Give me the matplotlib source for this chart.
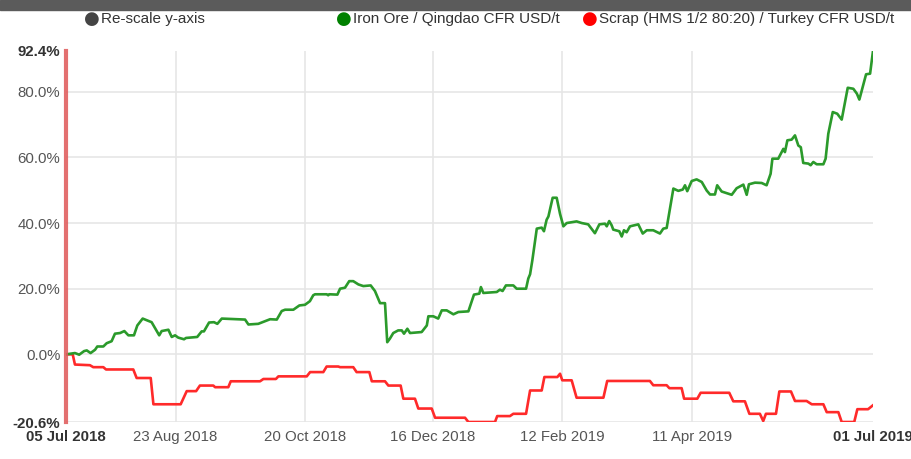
import numpy as np
import pandas as pd
import matplotlib
matplotlib.use("Agg")
import matplotlib.pyplot as plt
import matplotlib.dates as mdates
from matplotlib.ticker import FixedLocator

# data: days since 05 Jul 2018 and % change
start = pd.Timestamp("2018-07-05")

iron_days = [0, 4, 5.9, 8.1, 9.3, 11, 13, 14, 16.7, 18.2, 20.4, 21.9, 24.2, 26.1, 27.9, 30.4,
             31.9, 34.3, 36.1, 38.3, 41.7, 42.8, 45.8, 47.3, 48.8, 50.2, 52.8, 53.7, 58.7, 60.7,
             61.7, 64, 66.2, 67.7, 69.7, 80.1, 81.6, 86, 89, 91.3, 94.3, 96.5, 98, 101.7, 104.4,
             106.9, 109.1, 110.6, 111.4, 116.6, 117.3, 117.8, 121.4, 122.6, 124.8, 126.7, 128.5,
             130.8, 133, 136.3, 138.2, 140.5, 142.7, 143.7, 144.9, 146.4, 148.6, 150.2, 151.2,
             152.7, 153.9, 159.1, 161.4, 162.1, 164.3, 166.5, 168.1, 170.3, 173.3, 175.5, 180,
             182.5, 184.9, 185.6, 186.7, 192.7, 194.1, 195.3, 196.8, 200.1, 201.6, 205.8, 206.8,
             207.6, 208.6, 210.6, 212.8, 213.8, 215, 215.8, 217.7, 219.5, 221, 222.5, 224, 228.4,
             230.7, 233.6, 236.6, 238.6, 241.1, 241.9, 243, 244.1, 244.8, 247.5, 248.6, 249.6,
             250.8, 252.3, 256, 258, 259.8, 262.7, 265.7, 267.2, 268.7, 271.7, 273.9, 275.9,
             276.9, 277.9, 279.9, 282.1, 284.4, 286.6, 288.1, 290.3, 291.3, 293.3, 295.6, 297.8,
             300, 303, 304.5, 305.5, 308.2, 311.2, 313.4, 315.2, 316, 318.6, 320.9, 321.6, 322.7,
             324.6, 326.1, 327.6, 328.7, 329.8, 332.1, 333.1, 334.3, 335.8, 338.8, 339.8, 341,
             343, 345, 347, 348.5, 349.7, 352.2, 353.8, 354.9, 356, 357.9, 359.7, 361]
iron_pct = [0, 0.4, -0.1, 1.0, 1.2, 0.4, 1.4, 2.4, 2.4, 3.4, 4.0, 6.3, 6.5, 7.1, 5.8, 5.8,
            8.8, 10.9, 10.4, 9.8, 5.8, 7.1, 7.5, 5.3, 5.8, 5.1, 4.6, 5.0, 5.3, 7.0,
            7.0, 9.7, 9.8, 9.3, 10.9, 10.6, 9.1, 9.3, 10.1, 10.7, 10.6, 13.2, 13.6, 13.6, 14.9,
            15.1, 16.2, 18.0, 18.3, 18.3, 18.0, 18.3, 18.2, 20.0, 20.3, 22.3, 22.3,
            21.3, 20.8, 21.0, 19.3, 15.6, 15.6, 3.7, 4.8, 6.5, 7.3, 7.3, 6.3,
            7.8, 6.5, 6.8, 8.8, 11.6, 11.6, 10.9, 13.4, 13.4, 12.2, 12.9, 13.1,
            18.2, 18.5, 20.5, 18.7, 19.0, 19.7, 19.3, 21.0, 21.0, 20.0, 20.0, 23.1,
            24.4, 28.6, 38.3, 38.6, 37.5, 41.0, 42.0, 47.7, 47.7, 42.8, 39.0, 40.0, 40.5,
            40.0, 39.6, 36.9, 39.6, 39.8, 39.0, 40.6, 39.3, 38.0, 37.5, 35.9, 37.8,
            37.2, 39.0, 39.6, 36.8, 37.8, 37.8, 36.8, 38.3, 38.5, 50.5, 49.8, 50.2,
            51.5, 49.7, 52.8, 53.3, 52.5, 49.9, 48.7, 48.7, 51.5, 49.6, 49.1, 48.6,
            50.6, 51.7, 48.6, 51.8, 52.3, 52.2, 51.5, 55.0, 59.6, 59.6, 62.6, 61.6, 65.2,
            65.4, 66.7, 63.6, 63.1, 58.3, 58.1, 57.6, 58.6, 57.9, 57.9, 59.6, 67.2,
            73.8, 73.3, 71.5, 76.8, 81.2, 80.9, 79.4, 77.6, 80.4, 85.3, 85.5, 92.4]

scrap_days = [0, 3, 4, 10.7, 12.2, 16.7, 17.9, 30.1, 31.6, 37.9, 39.1, 51.3, 54, 58.2, 59.9,
              65.9, 66.7, 72.6, 73.7, 86.8, 88.3, 93.9, 95, 107.7, 109.2, 115.1, 116.6, 121.8,
              122.6, 128.5, 130, 135.7, 136.8, 142.7, 144.2, 149.7, 150.9, 156.1, 157.6, 163.6,
              165.1, 178.5, 180, 191.9, 192.9, 198.6, 200.1, 205.8, 207.6, 212.8, 214, 219.8,
              221, 222, 226.2, 228.4, 240.4, 242.1, 261.2, 262.7, 268.7, 269.9, 275.4, 276.5,
              282.4, 283.9, 296.7, 298.5, 303.7, 305.7, 310.4, 311.9, 313.1, 317.6, 319.1, 324.3,
              326.1, 331.3, 333.6, 338.8, 340.3, 345.5, 347, 352.6, 354, 358.8, 361]
scrap_pct = [0, 0, -3.1, -3.3, -3.9, -3.9, -4.6, -4.6, -7.2, -7.2, -15.2, -15.2, -11.2, -11.2, -9.5,
             -9.5, -10.0, -10.0, -8.2, -8.2, -7.5, -7.5, -6.7, -6.7, -5.4, -5.4, -3.7, -3.7,
             -3.9, -3.9, -5.4, -5.4, -8.2, -8.2, -9.5, -9.5, -13.5, -13.5, -16.5, -16.5,
             -19.3, -19.3, -20.6, -20.6, -18.8, -18.8, -18.1, -18.1, -11.0, -11.0, -6.9, -6.9,
             -5.9, -7.9, -7.9, -13.2, -13.2, -8.1, -8.1, -9.4, -9.4, -10.3, -10.3, -13.5,
             -13.5, -11.7, -11.7, -14.3, -14.3, -18.1, -18.1, -20.3, -18.1, -18.1, -11.3, -11.3,
             -14.2, -14.2, -15.2, -15.2, -17.6, -17.6, -20.6, -20.6, -16.7, -16.7, -15.5]

y_ticks = [-20.6, 0, 20, 40, 60, 80, 92.4]
x_ticks = ["2018-07-05", "2018-08-23", "2018-10-20", "2018-12-16", "2019-02-12", "2019-04-11", "2019-07-01"]
x_labels = ["05 Jul 2018", "23 Aug 2018", "20 Oct 2018", "16 Dec 2018", "12 Feb 2019", "11 Apr 2019", "01 Jul 2019"]

iron_dates = start + pd.to_timedelta(iron_days, unit="D")
scrap_dates = start + pd.to_timedelta(scrap_days, unit="D")
tick_dates = pd.to_datetime(x_ticks)

plt.rcParams['font.family'] = ['Liberation Sans', 'DejaVu Sans']

fig = plt.figure(figsize=(9.11, 4.59), dpi=100)
ax = fig.add_axes([66 / 911, 1 - 422 / 459, (873 - 66) / 911, (422 - 51) / 459])

grid_c = "#e6e6e6"
for t in tick_dates[1:-1]:
    ax.axvline(t, color=grid_c, lw=1.2, zorder=0)
for v in y_ticks[:-1]:
    ax.axhline(v, color=grid_c, lw=1.2, zorder=0)

ax.plot(scrap_dates, scrap_pct, color="#ff2a2a", lw=1.9, solid_joinstyle="round")
ax.plot(iron_dates, iron_pct, color="#2b9a2b", lw=1.9, solid_joinstyle="round")

# selected start marker
ax.axvline(start, color="#e06060", lw=3, alpha=0.9, zorder=5, clip_on=False)

ax.set_xlim(start, pd.Timestamp("2019-07-01"))
ax.set_ylim(-20.6, 92.4)

ax.xaxis.set_major_locator(FixedLocator(mdates.date2num(tick_dates)))
ax.set_xticklabels(x_labels)
ax.set_yticks(y_ticks)
ax.set_yticklabels(["%.1f%%" % v for v in y_ticks])
ax.tick_params(length=0, labelsize=10.8, labelcolor="#555555")
ax.tick_params(axis="x", pad=6)
ax.tick_params(axis="y", pad=4)
for lab in [ax.get_xticklabels()[0], ax.get_xticklabels()[-1], ax.get_yticklabels()[0], ax.get_yticklabels()[-1]]:
    lab.set_fontweight("bold")
    lab.set_color("#333333")
for s in ax.spines.values():
    s.set_visible(False)

# top bar and legend
fig.patches.append(plt.Rectangle((0, 1 - 10 / 459), 1, 10 / 459, transform=fig.transFigure,
                                 color="#5b5b5b", zorder=0))
legend_items = [("Re-scale y-axis", "#444444", 92), ("Iron Ore / Qingdao CFR USD/t", "#008000", 344),
                ("Scrap (HMS 1/2 80:20) / Turkey CFR USD/t", "#ff0000", 590)]
for text, col, px in legend_items:
    fig.text(px / 911, 1 - 19 / 459, "\u25CF", color=col, fontsize=13, ha="center", va="center",
             family="DejaVu Sans")
    fig.text((px + 9) / 911, 1 - 19 / 459, text, color="#333333", fontsize=11, ha="left", va="center")

fig.savefig("out.png", dpi=100)
